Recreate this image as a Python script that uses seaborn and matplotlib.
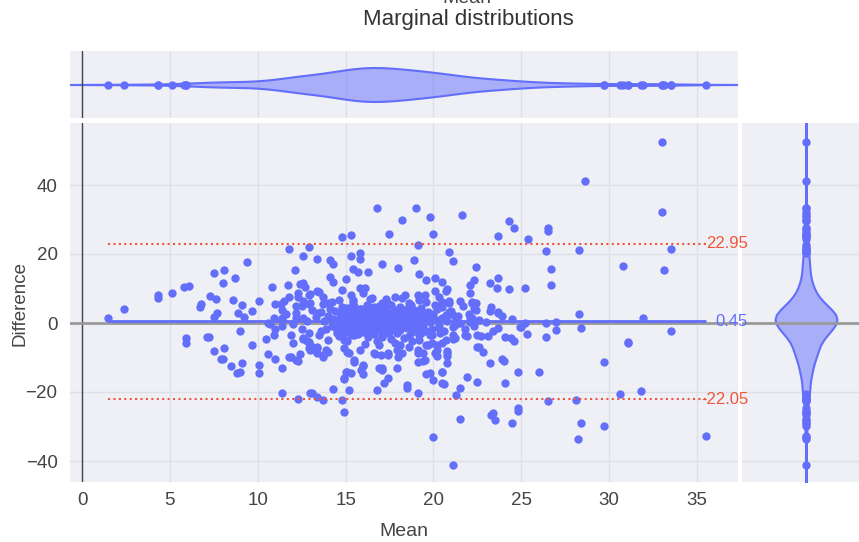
import numpy as np
import pandas as pd
import matplotlib
matplotlib.use("Agg")
import matplotlib.pyplot as plt
import seaborn as sns
from matplotlib.colors import to_rgb

# ---- data: (mean, difference) of paired measurements, grouped by region ----
mean_left_pos = [1.5, 2.4, 4.3, 4.3, 5.1, 5.8, 6.1, 6.7, 6.8, 7.3,
                 7.6, 7.5, 8.1, 8.0, 8.7, 9.4, 7.7, 7.5, 8.6, 8.9,
                 9.1, 9.2, 9.7, 10.1, 10.8, 11.0, 11.3, 11.5, 11.4, 10.9,
                 11.4, 11.4, 10.7, 10.6, 11.7, 11.8, 11.8, 12.1, 12.2, 12.5,
                 12.2, 12.3, 12.3, 12.4, 12.6, 12.6, 12.6, 12.7, 12.6, 12.9,
                 12.9, 12.9, 13.0, 13.0, 13.1, 13.3, 13.4, 13.4, 13.4, 11.4]
diff_left_pos = [1.4, 4.1, 8.1, 7.2, 8.7, 10.4, 10.7, 4.6, 5.5, 7.8,
                 7.0, 14.5, 15.4, 11.6, 13.0, 17.7, 2.9, 1.7, 6.7, 2.9,
                 5.2, 1.7, 3.5, 6.4, 10.4, 5.5, 5.5, 6.4, 3.8, 1.4,
                 1.4, 0.9, -0.3, 0.0, 11.0, 7.5, 21.4, 15.4, 4.9, 4.9,
                 1.4, 8.7, 7.5, 11.3, 11.6, 19.4, 1.4, 10.4, 6.4, 22.0,
                 8.1, 5.5, 8.4, 5.8, 3.8, 1.7, 2.9, 18.5, 9.3, -0.9]

mean_left_neg = [5.9, 5.9, 7.1, 7.2, 7.5, 8.1, 7.9, 8.0, 8.5, 8.8,
                 9.0, 9.1, 9.0, 9.7, 10.1, 10.1, 10.5, 10.6, 11.0, 10.9,
                 11.0, 11.4, 11.4, 11.9, 12.0, 11.9, 12.2, 12.4, 12.6, 12.9,
                 12.3, 13.0, 12.6, 12.8, 13.0, 13.1, 13.4, 13.0, 13.3, 13.1,
                 13.4, 11.8, 12.3, 12.9]
diff_left_neg = [-4.4, -5.9, -4.0, -4.2, -8.0, -7.3, -10.4, -10.4, -12.5, -14.4,
                 -14.1, -11.7, -2.3, -6.4, -12.2, -14.4, -4.7, -9.0, -10.4, -3.5,
                 -1.8, -13.1, -20.3, -3.5, -5.9, -9.8, -10.7, -9.0, -4.7, -7.3,
                 -22.0, -20.3, -4.3, -5.2, -6.4, -7.0, -7.2, -7.8, -8.1, -20.3,
                 -21.4, -9.9, -11.0, -5.5]

mean_mid_pos = [16.8, 19.0, 18.2, 19.8, 21.6, 17.5, 20.0, 14.8, 15.3, 19.1,
                14.1, 14.3, 15.3, 15.8, 15.8, 15.4, 15.7, 16.3, 17.1, 18.0,
                18.9, 19.2, 19.6, 20.1, 20.5, 20.9, 21.1, 22.4, 22.3, 22.1,
                14.1, 14.3, 15.0, 13.5, 13.7, 14.0, 14.8, 15.3, 15.8, 16.1,
                16.0, 17.8, 18.4, 19.1, 19.5, 20.1, 20.7, 20.8, 22.1, 14.6,
                14.8, 15.4, 16.5, 17.1, 17.6, 18.7, 19.6, 20.5, 20.9, 22.2]
diff_mid_pos = [33.3, 33.3, 29.9, 30.7, 31.3, 25.8, 25.8, 24.9, 25.5, 22.6,
                18.3, 17.1, 19.4, 20.3, 18.5, 15.7, 14.8, 14.8, 17.1, 15.9,
                18.3, 14.2, 12.5, 13.0, 11.9, 20.6, 18.0, 16.2, 12.5, 11.0,
                13.3, 11.9, 12.8, 9.0, 7.5, 5.8, 9.6, 8.1, 10.1, 10.1,
                8.7, 7.5, 8.1, 8.1, 8.1, 9.3, 9.3, 9.9, 8.7, 6.7,
                4.6, 6.1, 7.2, 5.8, 5.2, 5.2, 6.1, 6.1, 5.8, 6.1]

mean_mid_neg = [13.5, 13.4, 13.7, 13.9, 14.5, 14.9, 15.1, 15.5, 16.0, 16.0,
                15.0, 14.9, 15.3, 14.3, 15.2, 13.7, 14.8, 16.8, 17.2, 17.4,
                17.1, 17.9, 17.0, 17.4, 16.7, 18.5, 19.1, 19.6, 20.0, 19.1,
                19.4, 19.1, 19.7, 19.9, 19.2, 18.6, 18.1, 18.2, 18.0, 14.9,
                20.0, 21.5, 21.1, 21.3, 21.5, 21.9, 22.5, 20.5, 20.5, 18.5,
                17.1, 16.9, 16.0, 15.9, 15.1, 14.9, 15.5, 15.2, 14.9, 13.1,
                13.4, 13.7, 14.0, 15.8, 16.6, 17.4, 17.9, 19.1, 19.4, 20.2,
                20.8, 22.5, 19.5, 20.8, 21.1, 21.8, 22.5]
diff_mid_neg = [-3.5, -7.0, -9.3, -7.8, -2.9, -4.9, -8.4, -11.3, -12.2, -14.8,
                -14.2, -15.9, -14.5, -19.1, -19.4, -22.3, -22.3, -19.4, -17.4, -15.9,
                -13.0, -13.0, -9.3, -9.3, -9.0, -18.0, -20.3, -14.8, -16.5, -11.3,
                -11.0, -8.7, -6.4, -3.5, -4.9, -7.0, -6.4, -8.7, -9.9, -25.8,
                -33.0, -27.8, -41.2, -20.9, -18.8, -15.7, -17.1, -17.4, -14.2, -18.8,
                -13.6, -13.0, -12.5, -13.6, -14.2, -16.2, -10.7, -8.7, -7.2, -7.0,
                -8.7, -9.9, -8.4, -7.8, -8.7, -8.7, -7.8, -7.8, -8.7, -7.8,
                -8.7, -7.0, -10.7, -11.6, -3.5, -3.5, -3.5]

mean_right = [24.3, 24.6, 23.7, 25.4, 26.5, 26.5, 26.4, 26.7, 26.7, 23.2,
              23.7, 23.6, 24.3, 25.2, 22.2, 22.4, 22.3, 22.4, 23.3, 23.2,
              23.7, 24.5, 25.2, 25.0, 24.9, 26.4, 27.0, 27.0, 23.7, 20.9,
              20.1, 20.2, 20.5, 20.7, 20.9, 21.1, 21.3, 19.8, 20.3, 20.4,
              21.1, 21.9, 22.7, 23.1, 24.1, 24.4, 24.6, 25.3, 26.4, 21.2,
              21.1, 19.8, 19.9, 20.2, 20.5, 22.6, 22.8, 20.8, 20.8, 20.1,
              20.2, 23.2, 23.9, 24.0, 20.5, 20.6, 19.8, 24.8, 24.1, 26.0,
              24.8, 26.5, 22.1, 22.2, 22.1, 21.5, 23.7]
diff_right = [29.6, 27.5, 25.2, 24.3, 27.5, 26.7, 20.9, 15.7, 11.0, 11.6,
              13.0, 10.1, 9.9, 10.1, 5.8, 5.8, 4.3, 3.8, 4.6, 3.5,
              3.2, 1.2, 0.0, -1.2, -1.2, 0.0, 0.3, -2.0, -1.4, 6.4,
              5.2, 4.1, 4.6, 2.3, 3.2, 2.3, 1.2, 0.9, -1.4, -2.9,
              -1.2, -3.8, -3.8, -3.8, -4.1, -4.3, -5.2, -3.2, -4.1, -4.3,
              -4.6, -3.5, -5.8, -6.4, -5.8, -6.9, -8.4, -8.1, -9.6, -8.7,
              -9.6, -11.6, -10.4, -11.0, -14.2, -17.7, -14.5, -14.2, -17.4, -14.2,
              -24.6, -22.6, 1.4, 1.4, 0.3, 0.0, 2.9]

mean_far = [33.0, 28.6, 33.0, 28.3, 33.5, 30.8, 33.1, 28.3, 31.9, 33.5,
            31.1, 31.1, 29.7, 30.6, 31.8, 35.5, 29.7, 28.2, 28.4, 28.1,
            24.5, 24.8, 23.3, 23.5, 23.4, 28.4]
diff_far = [52.5, 41.2, 32.2, 21.2, 21.4, 16.5, 15.4, 2.6, 1.4, -2.3,
            -5.5, -5.9, -11.3, -20.6, -19.7, -32.8, -29.9, -33.6, -29.0, -22.3,
            -29.0, -25.5, -26.7, -28.1, -26.1, -1.4]

mean_core = [13.6, 13.8, 13.9, 14.0, 14.1, 14.2, 14.3, 14.4, 14.5, 14.6,
             14.7, 14.8, 14.9, 15.0, 15.0, 15.1, 15.2, 15.2, 15.3, 15.4,
             15.5, 15.5, 15.6, 15.6, 15.7, 15.7, 15.8, 15.8, 15.9, 15.9,
             16.0, 16.0, 16.1, 16.1, 16.2, 16.2, 16.3, 16.3, 16.4, 16.4,
             16.5, 16.5, 16.6, 16.6, 16.7, 16.7, 16.8, 16.8, 16.9, 16.9,
             17.0, 17.0, 17.1, 17.1, 17.2, 17.2, 17.3, 17.3, 17.4, 17.4,
             17.5, 17.5, 17.6, 17.6, 17.7, 17.7, 17.8, 17.8, 17.9, 17.9,
             18.0, 18.0, 18.1, 18.1, 18.2, 18.3, 18.3, 18.4, 18.5, 18.5,
             18.6, 18.6, 18.7, 18.8, 18.9, 18.9, 19.0, 19.1, 19.2, 19.3,
             19.3, 19.4, 19.5, 19.6, 19.7, 19.8, 19.9, 20.0, 20.2, 20.3,
             20.5, 20.6, 20.8, 21.0, 21.2, 21.4, 21.7, 21.8, 22.0, 22.3,
             22.6, 23.0, 23.4, 23.9, 13.7, 14.2, 14.6, 15.1, 15.4, 16.1,
             16.4, 16.9, 17.3, 17.8, 18.2, 18.8, 19.2, 19.6, 20.3, 20.7,
             21.5, 14.0, 13.6, 12.8, 12.5, 12.2, 12.0, 11.6, 12.9]
diff_core = [3.2, 0.5, -1.6, 2.1, 4.0, -0.8, 1.3, 3.6, -2.0, 0.2,
             2.8, -1.1, 1.9, 4.4, -0.3, 2.5, -2.6, 0.9, 3.3, -1.5,
             1.6, 5.0, -0.6, 2.9, -3.1, 0.4, 4.2, 1.2, -1.9, 2.4,
             0.0, 3.6, -2.4, 1.5, 5.3, -0.9, 2.2, -4.0, 0.7, 3.9,
             -1.7, 1.9, -3.3, 4.7, 0.2, 2.7, -1.2, -5.1, 1.0, 3.4,
             -2.2, 0.5, 2.1, -3.8, 4.1, -0.4, 1.7, -1.9, 3.0, 0.0,
             -2.8, 5.5, 1.3, -4.6, 2.6, -0.8, -1.6, 3.8, 0.6, -3.0,
             2.0, -0.2, 4.5, -2.1, 1.1, -4.3, 3.2, 0.3, -1.4, 2.4,
             5.8, -0.6, 1.6, -2.7, 3.7, 0.9, -1.0, 2.0, -3.4, 0.4,
             4.3, -0.9, 1.8, -2.2, 3.1, 0.2, -1.7, 2.6, 0.8, -0.5,
             1.4, -2.4, 0.5, 3.5, -0.7, 1.9, 4.8, -1.8, 2.7, -0.9,
             1.0, 0.2, -2.3, 1.9, 5.4, 6.2, -3.9, -5.2, 6.6, -6.0,
             7.0, -6.4, 6.9, -5.7, 7.3, -5.3, 6.8, -6.3, 7.6, -5.0,
             6.3, -5.0, -2.4, 0.6, -1.8, 3.0, -0.4, 2.6, -2.8]

mean_dense = [14.6, 14.7, 14.8, 14.9, 15.0, 15.1, 15.2, 15.3, 15.4, 15.5,
              15.6, 15.7, 15.8, 15.9, 16.0, 16.1, 16.2, 16.3, 16.4, 16.5,
              16.6, 16.7, 16.8, 16.9, 17.0, 17.1, 17.2, 17.3, 17.4, 17.5,
              17.6, 17.7, 17.8, 17.9, 18.0, 18.1, 18.2, 18.3, 18.4, 18.5,
              18.6, 18.7, 18.8, 18.9, 19.0, 19.1, 19.2, 19.3, 19.4, 14.9,
              15.3, 15.6, 15.9, 16.2, 16.5, 16.8, 17.1, 17.4, 17.7, 18.0,
              18.3, 18.6, 18.9, 15.1, 15.7, 16.3, 16.9, 17.5, 18.1, 18.7,
              16.0, 16.6, 17.2, 17.8, 15.4, 16.4, 17.0, 17.6, 16.2, 16.8]
diff_dense = [-0.5, 1.8, 3.9, -2.8, 0.7, 2.2, -1.2, 4.6, 0.1, -3.6,
              3.1, 1.0, -2.2, 0.3, 2.6, -0.7, 1.9, -1.5, 4.4, 0.9,
              -2.6, 3.6, 1.4, -0.2, 2.9, -1.1, 0.6, 4.9, -3.0, 1.1,
              -0.3, 3.3, 0.8, 2.1, -1.8, 0.2, 3.8, -0.9, 1.7, 4.1,
              0.0, -2.0, 2.8, -0.5, 3.4, -1.6, 1.2, -2.9, 2.3, 0.6,
              -3.4, 1.9, 4.0, -1.3, 2.4, 0.4, -4.1, 3.0, 1.5, -0.6,
              2.7, -3.8, 1.0, -1.9, 3.2, -0.4, 5.0, -1.9, 2.2, -0.1,
              -2.6, 0.9, 1.8, -0.4, 2.0, -3.2, 3.9, 0.1, 1.3, -1.4]

# agreement statistics shown on the chart
bias = 0.45
upper_loa = 22.95
lower_loa = -22.05

x_ticks = [0, 5, 10, 15, 20, 25, 30, 35]
y_ticks = [-40, -20, 0, 20, 40]

mean_vals = np.array(mean_left_pos + mean_left_neg + mean_mid_pos + mean_mid_neg
                     + mean_right + mean_far + mean_core + mean_dense)
diff_vals = np.array(diff_left_pos + diff_left_neg + diff_mid_pos + diff_mid_neg
                     + diff_right + diff_far + diff_core + diff_dense)
df = pd.DataFrame({"Mean": mean_vals, "Difference": diff_vals})

# ---- style ----
BLUE = "#636EFA"
RED = "#EF553B"
BG = "#eef0f5"
GRID = "#dde0e8"
TXT = "#444444"

sns.set_theme(style="white")
plt.rcParams["font.family"] = ["Liberation Sans", "DejaVu Sans"]
plt.rcParams["axes.unicode_minus"] = True

W, H = 859, 542
fig = plt.figure(figsize=(W / 100, H / 100), dpi=100)


def box(l, t, r, b):
    return [l / W, 1 - b / H, (r - l) / W, (b - t) / H]


ax = fig.add_axes(box(70, 123, 738, 482))
ax_top = fig.add_axes(box(70, 51, 738, 118))
ax_right = fig.add_axes(box(742, 123, 859, 482))
ax.set_zorder(3)

XLIM = (-12 / 17.571, (738 - 82) / 17.571)
YLIM = (-159 / 3.45, 200 / 3.45)

for a in (ax, ax_top, ax_right):
    a.set_facecolor(BG)
    for s in a.spines.values():
        s.set_visible(False)
    a.tick_params(length=0)


def silverman_factor(v):
    v = np.asarray(v, float)
    sd = v.std(ddof=1)
    iqr = np.subtract(*np.percentile(v, [75, 25]))
    bw = 1.059 * min(sd, iqr / 1.349) * len(v) ** (-0.2)
    return bw / sd


def outliers(v):
    q1, q3 = np.percentile(v, [25, 75])
    k = 1.5 * (q3 - q1)
    return v[(v < q1 - k) | (v > q3 + k)]


fill_rgba = to_rgb(BLUE) + (0.5,)
MS = 36

# ---- main Bland-Altman scatter ----
ax.set_xlim(*XLIM)
ax.set_ylim(*YLIM)
ax.set_xticks(x_ticks)
ax.set_yticks(y_ticks)
ax.grid(True, color=GRID, lw=1, zorder=0)
ax.axvline(0, color="#444444", lw=1, zorder=1)
ax.axhline(0, color="#9a9a9a", lw=2, zorder=1)
sns.scatterplot(data=df, x="Mean", y="Difference", ax=ax, color=BLUE,
                s=MS, linewidth=0, legend=False, zorder=2)
x0, x1 = mean_vals.min(), mean_vals.max()
ax.hlines([upper_loa, lower_loa], x0, x1, colors=RED, lw=1.5,
          linestyles=(0, (1, 1.6)), zorder=4)
ax.hlines([bias], x0, x1, colors=BLUE, lw=2, zorder=4)
ax.set_xlabel("")
ax.set_ylabel("")
ax.tick_params(axis="x", pad=7, labelsize=13.5, labelcolor=TXT)
ax.tick_params(axis="y", pad=9, labelsize=13.5, labelcolor=TXT)

lab_tr = matplotlib.transforms.blended_transform_factory(ax.transAxes, ax.transData)
for val, col, txt in [(upper_loa, RED, f"{upper_loa:.2f}"),
                      (bias, BLUE, f"{bias:.2f}"),
                      (lower_loa, RED, f"{lower_loa:.2f}")]:
    ax.text((748 - 70) / 668, val, txt, transform=lab_tr, ha="right",
            va="center", color=col, fontsize=12, clip_on=False, zorder=6)

# ---- top marginal: distribution of the means ----
sns.violinplot(x=mean_vals, ax=ax_top, orient="h", color=BLUE, saturation=1,
               inner=None, cut=8, bw_method=silverman_factor(mean_vals),
               linewidth=1.5, linecolor=BLUE, width=0.8)
for c in ax_top.collections:
    c.set_facecolor(fill_rgba)
out_m = outliers(mean_vals)
sns.scatterplot(x=out_m, y=np.zeros_like(out_m), ax=ax_top, color=BLUE,
                s=MS, linewidth=0, legend=False, zorder=5)
ax_top.set_xlim(*XLIM)
ax_top.set_ylim(-33 / 42.5, 34 / 42.5)
ax_top.set_xticks(x_ticks)
ax_top.set_yticks([])
ax_top.xaxis.grid(True, color=GRID, lw=1, zorder=0)
ax_top.set_axisbelow(True)
ax_top.axvline(0, color="#444444", lw=1, zorder=1)
ax_top.set_xticklabels([])
ax_top.set_xlabel("")
ax_top.set_ylabel("")

# ---- right marginal: distribution of the differences ----
sns.violinplot(y=diff_vals, ax=ax_right, orient="v", color=BLUE, saturation=1,
               inner=None, cut=8, bw_method=silverman_factor(diff_vals),
               linewidth=1.5, linecolor=BLUE, width=0.8)
for c in ax_right.collections:
    c.set_facecolor(fill_rgba)
out_d = outliers(diff_vals)
sns.scatterplot(x=np.zeros_like(out_d), y=out_d, ax=ax_right, color=BLUE,
                s=MS, linewidth=0, legend=False, zorder=5)
ax_right.set_ylim(*YLIM)
ax_right.set_xlim(-64 / 77.5, 53 / 77.5)
ax_right.set_yticks(y_ticks)
ax_right.set_xticks([])
ax_right.yaxis.grid(True, color=GRID, lw=1, zorder=0)
ax_right.set_axisbelow(True)
ax_right.axhline(0, color="#9a9a9a", lw=2, zorder=1)
ax_right.set_yticklabels([])
ax_right.set_xlabel("")
ax_right.set_ylabel("")

# ---- titles ----
fig.text(467 / W, 1 - 3 / H, "Mean", ha="center", va="baseline",
         fontsize=14, color=TXT)
fig.text(468 / W, 1 - 20 / H, "Marginal distributions", ha="center",
         va="center", fontsize=16, color="#333333")
fig.text(404 / W, 1 - 532 / H, "Mean", ha="center", va="center",
         fontsize=14, color=TXT)
fig.text(20 / W, 1 - 303 / H, "Difference", ha="center", va="center",
         rotation=90, fontsize=13.5, color=TXT)

fig.savefig("out.png", dpi=100)
